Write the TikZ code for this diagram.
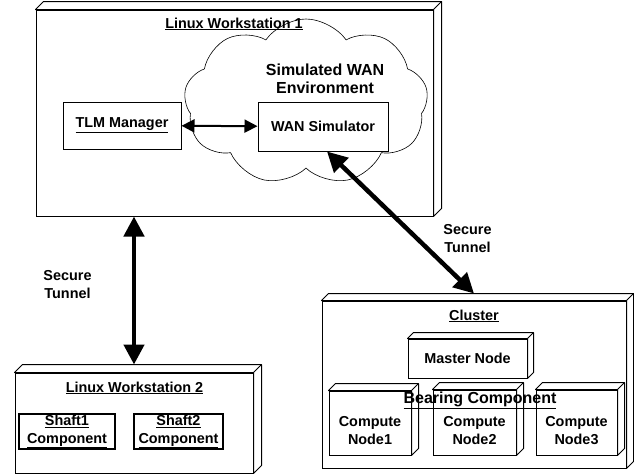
\documentclass[tikz,border=0pt]{standalone}
\usepackage{fontspec}
\setmainfont{Liberation Sans}
\usetikzlibrary{arrows.meta,shapes.symbols}

\tikzset{
  txt/.style={font=\fontsize{14.4}{18}\selectfont\bfseries, align=center, inner sep=0pt},
  bigtxt/.style={txt, font=\fontsize{16}{18}\selectfont\bfseries},
  plainbox/.style={draw, line width=1pt, fill=white, inner sep=0pt},
  box3d/.style={plainbox, append after command={\pgfextra{
      \draw[line width=1pt, fill=white, line join=round] (\tikzlastnode.north west) -- ++(#1,-#1)
        -- ([shift={(#1,-#1)}]\tikzlastnode.north east) -- ([shift={(#1,-#1)}]\tikzlastnode.south east)
        -- (\tikzlastnode.south east) -- (\tikzlastnode.north east) -- cycle;
      \draw[line width=1pt] (\tikzlastnode.north east) -- ++(#1,-#1);}}},
  tunnel/.style={line width=4.5pt, {Triangle[width=20pt,length=20pt]}-{Triangle[width=20pt,length=20pt]}},
  link/.style={line width=2pt, {Triangle[width=13pt,length=13pt]}-{Triangle[width=13pt,length=13pt]}},
}

\begin{document}
\begin{tikzpicture}[x=1pt,y=-1pt]
\useasboundingbox (0,0) rectangle (634,475);

% Linux Workstation 1
\node[box3d=8, minimum width=397pt, minimum height=206pt] (ws1) at (234.5,113) {};
\node[txt] (ws1title) at (234,24) {\underline{Linux Workstation 1}};
\node[cloud, cloud puffs=9, cloud puff arc=110, draw, line width=0.6pt, minimum width=244pt, minimum height=166pt] (wancloud) at (306,102) {};
\node[bigtxt] (wantitle) at (325,79) {Simulated WAN\\Environment};
\node[plainbox, txt, minimum width=118pt, minimum height=47pt] (tlm) at (122,125.5) {\underline{TLM Manager}};
\node[plainbox, txt, minimum width=130pt, minimum height=49pt] (wansim) at (323,126.5) {WAN Simulator};
\draw[link] (tlm) -- (wansim);

% Linux Workstation 2
\node[box3d=8, minimum width=238pt, minimum height=100pt] (ws2) at (134,423) {};
\node[txt] (ws2title) at (134.5,388) {\underline{Linux Workstation 2}};
\node[plainbox, txt, line width=1.5pt, minimum width=96pt, minimum height=35pt] (shaft1) at (67,431.5) {\underline{Shaft1}\\\underline{Component}};
\node[plainbox, txt, line width=1.5pt, minimum width=89pt, minimum height=35pt] (shaft2) at (178.5,431.5) {\underline{Shaft2}\\\underline{Component}};

% Cluster
\node[box3d=7, minimum width=304pt, minimum height=167pt] (cluster) at (474,384.5) {};
\node[txt] (clustertitle) at (474,316) {\underline{Cluster}};
\node[box3d=6, txt, minimum width=119pt, minimum height=39pt] (master) at (467.5,358.5) {Master Node};
\node[box3d=7, minimum width=82pt, minimum height=64pt] (cn1) at (370,423) {};
\node[box3d=7, minimum width=83pt, minimum height=65pt] (cn2) at (474.5,422.5) {};
\node[box3d=7, minimum width=81pt, minimum height=65pt] (cn3) at (576.5,422.5) {};
\node[txt] (cn1text) at ([yshift=-8pt]cn1.center) {Compute\\Node1};
\node[txt] (cn2text) at ([yshift=-8.5pt]cn2.center) {Compute\\Node2};
\node[txt] (cn3text) at ([yshift=-8.5pt]cn3.center) {Compute\\Node3};
\node[bigtxt] (bearing) at (480,400) {\underline{Bearing Component}};

% secure tunnels
\draw[tunnel] (ws1.south -| ws2.north) -- ([yshift=8pt]ws2.north);
\node[txt] (tunnel1) at (67.5,284.5) {Secure\\Tunnel};
\draw[tunnel] ([xshift=4pt]wansim.south) -- ([yshift=7pt]cluster.north);
\node[txt] (tunnel2) at (467.5,239) {Secure\\Tunnel};
\end{tikzpicture}
\end{document}
